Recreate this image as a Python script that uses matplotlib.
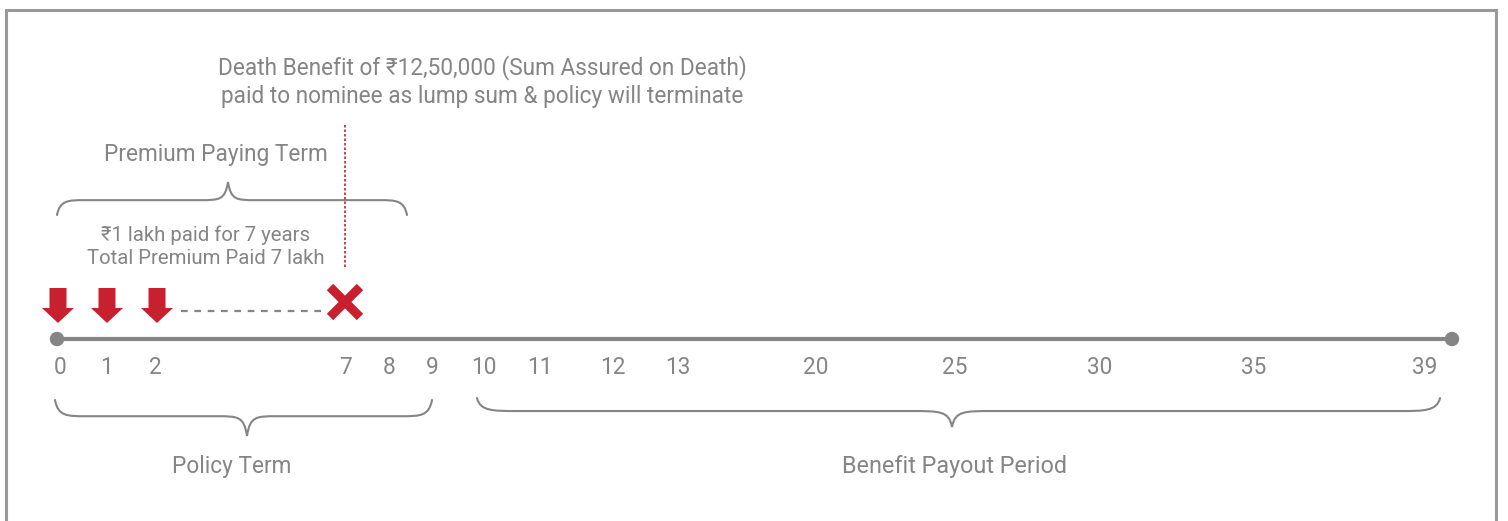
import numpy as np
import matplotlib
matplotlib.use("Agg")
import matplotlib.pyplot as plt
from matplotlib.path import Path
from matplotlib.patches import PathPatch, FancyArrow, Circle

plt.rcParams['font.family'] = ['Roboto', 'Noto Sans', 'DejaVu Sans']

# ---- data ----
years = [0, 1, 2, 7, 8, 9, 10, 11, 12, 13, 20, 25, 30, 35, 39]
tick_labels = [str(y) for y in years]
premium_years = [0, 1, 2]
death_year = 7
header_text = ["Death Benefit of \u20b912,50,000 (Sum Assured on Death)",
               "paid to nominee as lump sum & policy will terminate"]
ppt_label = "Premium Paying Term"
premium_text = ["\u20b91 lakh paid for 7 years", "Total Premium Paid 7 lakh"]
policy_label = "Policy Term"
payout_label = "Benefit Payout Period"

# ---- layout (pixel positions of the non-linear timeline scale) ----
year_px = [60, 107, 155, 345, 389, 432, 484, 540, 613, 678, 816, 955, 1100, 1254, 1425]
def X(y):
    return float(np.interp(y, years, year_px))

GRAY = '#858585'
RED = '#C8202F'
W, H = 1508, 521
fig = plt.figure(figsize=(W / 100, H / 100), dpi=100)
ax = fig.add_axes([0, 0, 1, 1])
ax.set_xlim(0, W)
ax.set_ylim(H, 0)
ax.axis('off')

# frame
ax.plot([6, 6, 1496, 1496], [H + 5, 10, 10, H + 5], color='#999999', lw=2.2, solid_joinstyle='miter')

def brace(x1, x2, y, depth, tipx, direction, lw=1.5):
    d = direction
    ym = y + d * depth * 0.45
    yt = y + d * depth
    c = 0.08 * (x2 - x1) if (x2 - x1) < 600 else 40
    verts = [(x1, y),
             (x1 + 3, ym), (x1 + c * 0.4, ym), (x1 + c, ym),
             (tipx - c, ym),
             (tipx - c * 0.3, ym), (tipx - 3, ym), (tipx, yt),
             (tipx + 3, ym), (tipx + c * 0.3, ym), (tipx + c, ym),
             (x2 - c, ym),
             (x2 - c * 0.4, ym), (x2 - 3, ym), (x2, y)]
    codes = [Path.MOVETO,
             Path.CURVE4, Path.CURVE4, Path.CURVE4,
             Path.LINETO,
             Path.CURVE4, Path.CURVE4, Path.CURVE4,
             Path.CURVE4, Path.CURVE4, Path.CURVE4,
             Path.LINETO,
             Path.CURVE4, Path.CURVE4, Path.CURVE4]
    ax.add_patch(PathPatch(Path(verts, codes), fill=False, edgecolor=GRAY, lw=lw, capstyle='round'))

FS = 16.3
# header text
ax.text(482, 68, header_text[0], ha='center', va='center', fontsize=FS, color=GRAY)
ax.text(482, 96, header_text[1], ha='center', va='center', fontsize=FS, color=GRAY)

# premium paying term
ax.text(216, 155, ppt_label, ha='center', va='center', fontsize=FS, color=GRAY)
brace(57, 407, 215, 33, 228, -1)
ax.text(206, 235, premium_text[0], ha='center', va='center', fontsize=14.7, color=GRAY)
ax.text(206, 259, premium_text[1], ha='center', va='center', fontsize=14.7, color=GRAY)

# red dotted vertical line at death
ax.plot([X(death_year), X(death_year)], [125, 268], color=RED, lw=1.2, ls=(0, (1.5, 1.2)))

# premium arrows
for py in premium_years:
    x = X(py) - 2 if py == 0 else X(py) + (2 if py == 2 else 0)
    ax.add_patch(FancyArrow(x, 288, 0, 35, width=17, head_width=32, head_length=15,
                            length_includes_head=True, color=RED, lw=0))

# dashed connector
ax.plot([181, 325], [311, 311], color=GRAY, lw=1.6, ls=(0, (3, 3)))

# red X
xc, yc, s = X(death_year), 302, 15
ax.plot([xc - s, xc + s], [yc - s, yc + s], color=RED, lw=6.5, solid_capstyle='butt')
ax.plot([xc - s, xc + s], [yc + s, yc - s], color=RED, lw=6.5, solid_capstyle='butt')

# timeline
ax.plot([57, 1452], [339, 339], color=GRAY, lw=3, solid_capstyle='butt')
ax.add_patch(Circle((57, 339), 6.5, color=GRAY, zorder=3))
ax.add_patch(Circle((1452, 339), 6.5, color=GRAY, zorder=3))

for y, lab in zip(years, tick_labels):
    ax.text(X(y), 368, lab, ha='center', va='center', fontsize=FS, color=GRAY)

# lower braces
brace(55, 432, 400, 36, 247, 1)
ax.text(232, 466, policy_label, ha='center', va='center', fontsize=FS, color=GRAY)
brace(477, 1440, 398, 29, 952, 1)
ax.text(955, 466, payout_label, ha='center', va='center', fontsize=16.8, color=GRAY)

fig.savefig('out.png', dpi=100)
